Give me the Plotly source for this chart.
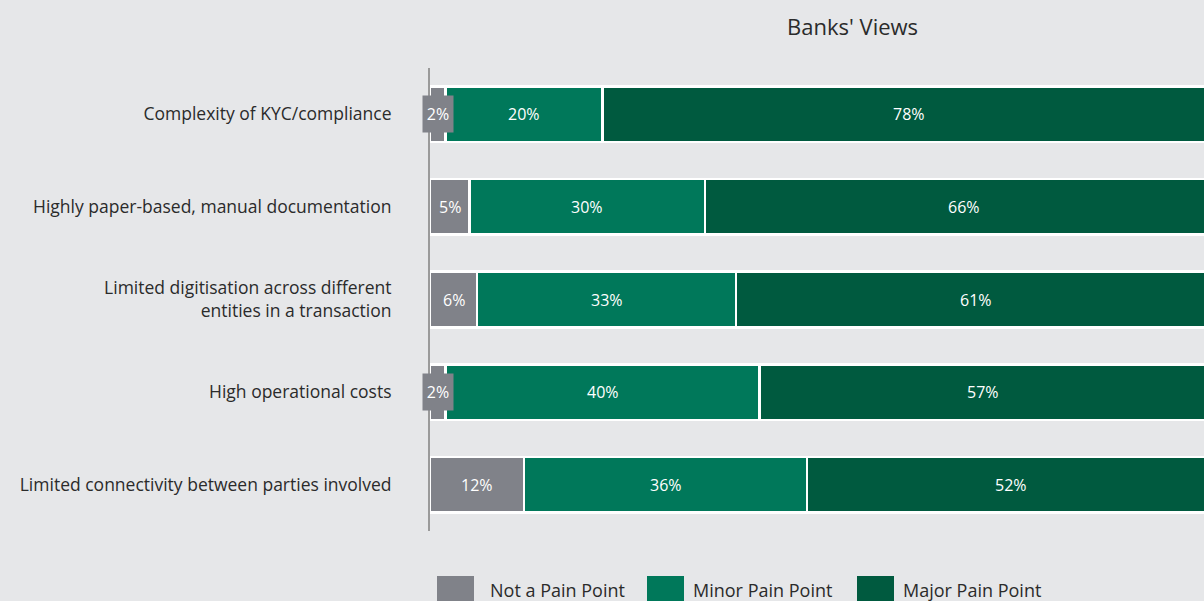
import plotly.graph_objects as go

# Survey data: share of banks rating each issue
categories = [
    "Complexity of KYC/compliance",
    "Highly paper-based, manual documentation",
    "Limited digitisation across different<br>entities in a transaction",
    "High operational costs",
    "Limited connectivity between parties involved",
]
not_pain = [2, 5, 6, 2, 12]
minor_pain = [20, 30, 33, 40, 36]
major_pain = [78, 66, 61, 57, 52]

series_names = ["Not a Pain Point", "Minor Pain Point", "Major Pain Point"]
series_values = [not_pain, minor_pain, major_pain]
series_colors = ["#808289", "#00785a", "#005a3f"]

BG = "#e6e7e9"
TEXT = "#2b2b2b"
FONT = "Open Sans"

fig = go.Figure()
for name, vals, col in zip(series_names, series_values, series_colors):
    fig.add_trace(go.Bar(
        y=categories, x=vals, name=name, orientation="h",
        marker=dict(color=col, line=dict(color="white", width=2.5)),
        width=0.6, showlegend=False, hoverinfo="skip",
    ))

# Value labels centred on each segment
annotations = []
for i, cat in enumerate(categories):
    start = 0
    for vals, col in zip(series_values, series_colors):
        v = vals[i]
        mid = start + v / 2
        ann = dict(x=mid, y=cat, xref="x", yref="y", text=f"{v}%",
                   showarrow=False, font=dict(color="white", size=16, family=FONT))
        if v < 4:
            ann.update(bgcolor=col, width=28, height=34)
        annotations.append(ann)
        start += v

# Title
annotations.append(dict(x=(852 - 430) / 774, y=1, xref="paper", yref="paper",
                        yshift=42, yanchor="middle", text="Banks' Views", showarrow=False,
                        font=dict(size=22, color=TEXT, family=FONT)))

# Legend drawn as large swatches below the plot
shapes = []
swatch_x = [437, 647, 857]
label_x = [488, 691, 901]
for name, col, sx, tx in zip(series_names, series_colors, swatch_x, label_x):
    shapes.append(dict(type="rect", xref="paper", yref="paper",
                       x0=(sx - 430) / 774, x1=(sx + 37 - 430) / 774,
                       y0=(531 - 576) / 463, y1=(531 - 613) / 463,
                       fillcolor=col, line=dict(width=0)))
    annotations.append(dict(x=(tx - 430) / 774, y=(531 - 590) / 463,
                            xref="paper", yref="paper", xanchor="left", yanchor="middle",
                            text=name, showarrow=False,
                            font=dict(size=18, color=TEXT, family=FONT)))

fig.update_layout(
    barmode="stack",
    width=1204, height=601,
    paper_bgcolor=BG, plot_bgcolor=BG,
    margin=dict(l=430, r=0, t=68, b=70),
    font=dict(family=FONT, color=TEXT, size=16),
    xaxis=dict(range=[0, 98.6], visible=False, fixedrange=True),
    yaxis=dict(autorange="reversed", showline=True, linecolor="#9a9a9a", linewidth=2,
               showgrid=False, zeroline=False, ticks="", ticklabelstandoff=33,
               tickfont=dict(size=17.5, color=TEXT, family=FONT)),
    annotations=annotations,
    shapes=shapes,
    bargap=0.4,
)

fig.write_html("out.html")
